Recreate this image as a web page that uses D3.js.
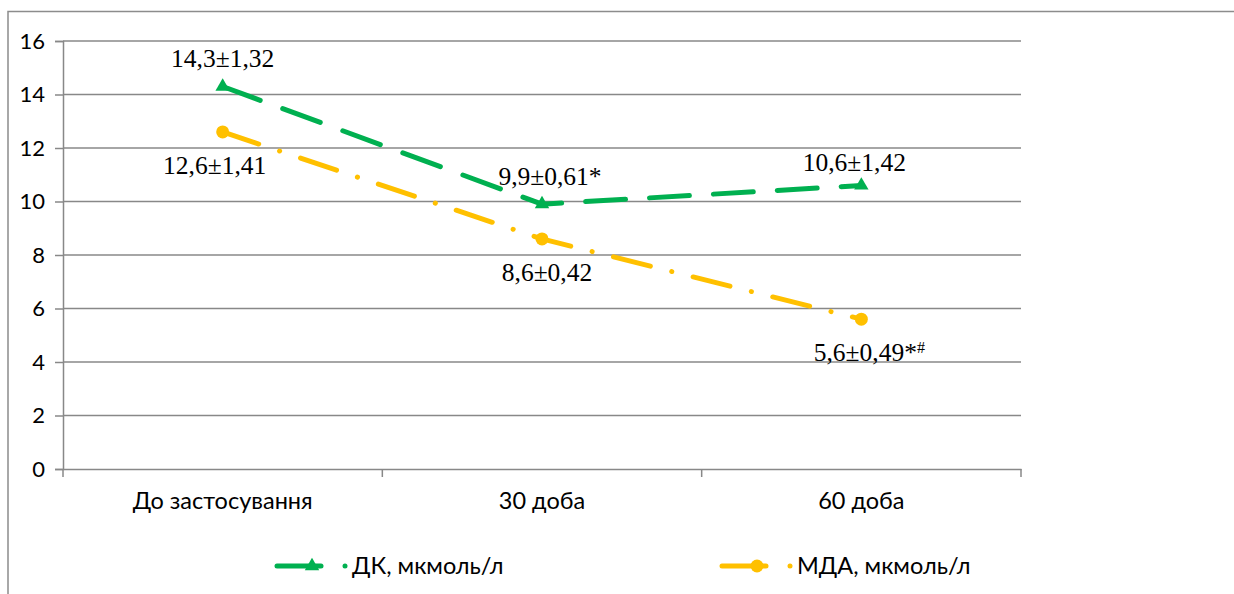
<!DOCTYPE html>
<html><head><meta charset="utf-8">
<script src="https://cdn.jsdelivr.net/npm/d3@7"></script>
<style>body{margin:0;background:#fff}svg{display:block}</style>
</head><body>
<svg id="c" width="1234" height="594"></svg>
<script>
const categories = ["До застосування", "30 доба", "60 доба"];
const dkValues = [14.3, 9.9, 10.6];
const mdaValues = [12.6, 8.6, 5.6];
const dkLabels = ["14,3±1,32", "9,9±0,61*", "10,6±1,42"];
const mdaLabels = ["12,6±1,41", "8,6±0,42", "5,6±0,49*"];
const mdaLabelSup = ["", "", "#"];
const seriesNames = ["ДК, мкмоль/л", "МДА, мкмоль/л"];
const yTicks = [0, 2, 4, 6, 8, 10, 12, 14, 16];

const svg = d3.select("#c");
const L = 63, R = 1021, T = 41, B = 469;
const green = "#00B050", yellow = "#FFC000", grid = "#888888";
const tickFont = "Lato, 'Open Sans', sans-serif";
const serif = "'Liberation Serif', 'Times New Roman', serif";

// outer border
svg.append("path").attr("d", `M8,600 L8,11.5 L1240,11.5`).attr("fill","none").attr("stroke","#8c8c8c").attr("stroke-width",1.5);

const x = d3.scaleBand().domain(categories).range([L, R]);
const y = d3.scaleLinear().domain([0, 16]).range([B, T]);

// gridlines
svg.append("g").selectAll("line").data(yTicks.filter(d=>d>0)).join("line")
  .attr("x1", L).attr("x2", R).attr("y1", d=>y(d)).attr("y2", d=>y(d))
  .attr("stroke", grid).attr("stroke-width", 1.5);

// y axis
const ya = svg.append("g").attr("transform", `translate(${L},0)`)
  .call(d3.axisLeft(y).tickValues(yTicks).tickSize(8).tickPadding(10));
ya.select(".domain").attr("stroke", grid).attr("stroke-width", 1.5);
ya.selectAll(".tick line").attr("stroke", grid).attr("stroke-width", 1.5);
ya.selectAll(".tick text").attr("font-family", tickFont).attr("font-size", 22).attr("fill","#000");

// x axis
const xa = svg.append("g").attr("transform", `translate(0,${B})`)
  .call(d3.axisBottom(x).tickSize(0).tickPadding(23));
xa.select(".domain").attr("stroke", grid).attr("stroke-width", 1.5);
xa.selectAll(".tick text").attr("font-family", tickFont).attr("font-size", 23.5).attr("fill","#000");
// category boundary ticks
const bounds = categories.map(c=>x(c)).concat([R]);
xa.append("g").selectAll("line").data(bounds).join("line")
  .attr("x1", d=>d).attr("x2", d=>d).attr("y1", 0).attr("y2", 8)
  .attr("stroke", grid).attr("stroke-width", 1.5);

const cx = c => x(c) + x.bandwidth()/2;
const line = d3.line().x(d=>cx(d[0])).y(d=>y(d[1]));
const dkPts = categories.map((c,i)=>[c, dkValues[i]]);
const mdaPts = categories.map((c,i)=>[c, mdaValues[i]]);

svg.append("path").attr("d", line(mdaPts)).attr("fill","none").attr("stroke", yellow)
  .attr("stroke-width", 5).attr("stroke-linecap","round").attr("stroke-dasharray","38,22,0.1,22");
svg.append("path").attr("d", line(dkPts)).attr("fill","none").attr("stroke", green)
  .attr("stroke-width", 5).attr("stroke-linecap","round").attr("stroke-dasharray","40,24");

const tri = d3.symbol().type(d3.symbolTriangle).size(90);
svg.append("g").selectAll("path").data(dkPts).join("path")
  .attr("d", tri).attr("transform", d=>`translate(${cx(d[0])},${y(d[1])})`).attr("fill", green);
svg.append("g").selectAll("circle").data(mdaPts).join("circle")
  .attr("cx", d=>cx(d[0])).attr("cy", d=>y(d[1])).attr("r", 6.5).attr("fill", yellow);

// data labels
const dkOff = [[0,-19],[8,-19],[-7,-14]];
const mdaOff = [[-8,42],[5,42],[8,42]];
svg.append("g").selectAll("text").data(dkPts).join("text")
  .attr("x",(d,i)=>cx(d[0])+dkOff[i][0]).attr("y",(d,i)=>y(d[1])+dkOff[i][1])
  .attr("text-anchor","middle").attr("font-family",serif).attr("font-size",25.5)
  .text((d,i)=>dkLabels[i]);
const mt = svg.append("g").selectAll("text").data(mdaPts).join("text")
  .attr("x",(d,i)=>cx(d[0])+mdaOff[i][0]).attr("y",(d,i)=>y(d[1])+mdaOff[i][1])
  .attr("text-anchor","middle").attr("font-family",serif).attr("font-size",25.5);
mt.append("tspan").text((d,i)=>mdaLabels[i]);
mt.append("tspan").attr("font-size",16).attr("dy",-8).text((d,i)=>mdaLabelSup[i]);

// legend
const leg = [{name: seriesNames[0], color: green, x0: 277, m: "tri"}, {name: seriesNames[1], color: yellow, x0: 722, m: "circ"}];
const ly = 566;
leg.forEach(l=>{
  const g = svg.append("g");
  g.append("line").attr("x1", l.x0).attr("x2", l.x0+44).attr("y1", ly).attr("y2", ly)
    .attr("stroke", l.color).attr("stroke-width",5).attr("stroke-linecap","round");
  if (l.m==="tri") g.append("path").attr("d", tri).attr("transform",`translate(${l.x0+35},${ly})`).attr("fill", l.color);
  else g.append("circle").attr("cx", l.x0+35).attr("cy", ly).attr("r",6.5).attr("fill", l.color);
  g.append("circle").attr("cx", l.x0+68).attr("cy", ly).attr("r",2.5).attr("fill", l.color);
  g.append("text").attr("x", l.x0+75).attr("y", ly+8).attr("font-family", tickFont).attr("font-size",23.5).text(l.name);
});
</script>
</body></html>
